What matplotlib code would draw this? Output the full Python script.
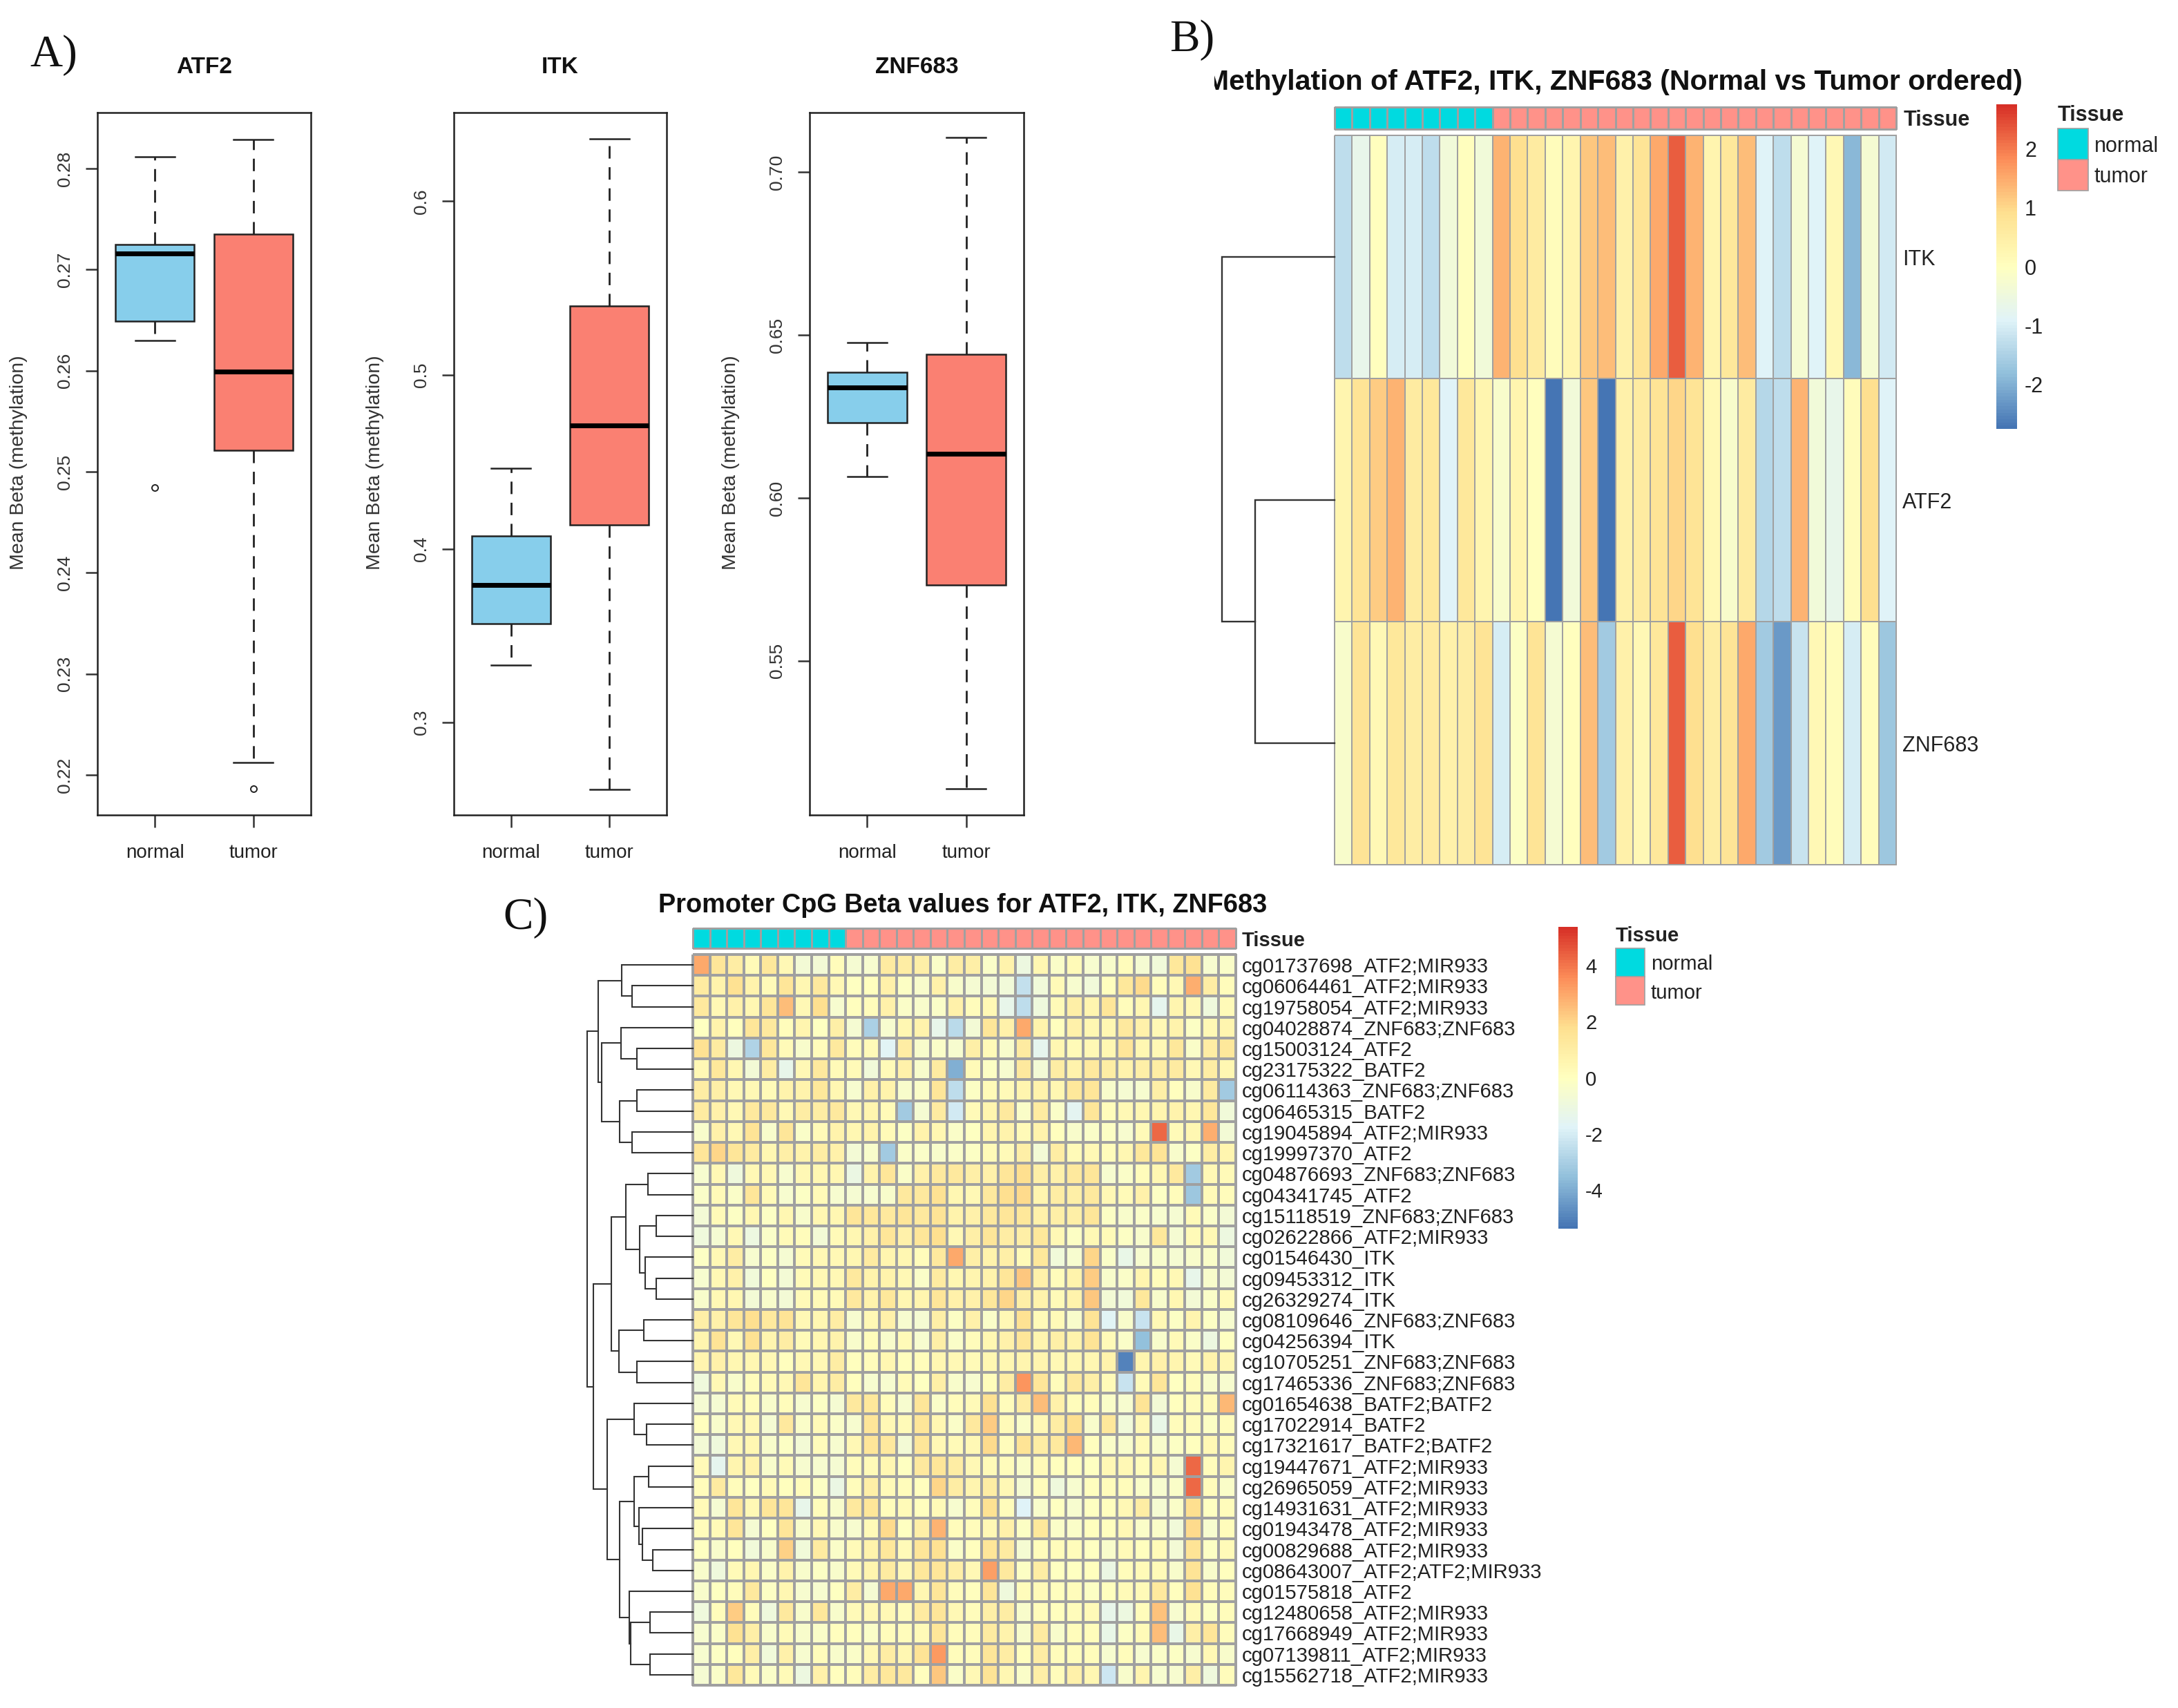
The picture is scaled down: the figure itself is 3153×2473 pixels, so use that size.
import numpy as np
import matplotlib
matplotlib.use('Agg')
import matplotlib.pyplot as plt
from matplotlib.colors import LinearSegmentedColormap, ListedColormap
from matplotlib.patches import Rectangle
from matplotlib.transforms import Bbox

plt.rcParams['font.family'] = ['Liberation Sans', 'DejaVu Sans']
plt.rcParams['axes.unicode_minus'] = False

W, H = 3153, 2473

# Boxplot stats: whislo, q1, med, q3, whishi, fliers
genes_a = ['ATF2', 'ITK', 'ZNF683']
groups = ['normal', 'tumor']
atf2_normal = [0.2630, 0.2649, 0.2716, 0.2725, 0.2812, [0.2484]]
atf2_tumor = [0.2212, 0.2521, 0.2599, 0.2735, 0.2829, [0.2186]]
itk_normal = [0.3329, 0.3570, 0.3791, 0.4073, 0.4462, []]
itk_tumor = [0.2617, 0.4136, 0.4709, 0.5396, 0.6358, []]
znf_normal = [0.6066, 0.6232, 0.6339, 0.6386, 0.6476, []]
znf_tumor = [0.5108, 0.5734, 0.6135, 0.6442, 0.7107, []]
box_stats = [[atf2_normal, atf2_tumor], [itk_normal, itk_tumor], [znf_normal, znf_tumor]]
box_ylims = [(0.21603, 0.28555), (0.2468, 0.651), (0.5027, 0.7183)]
box_ticks = [[0.22, 0.23, 0.24, 0.25, 0.26, 0.27, 0.28], [0.3, 0.4, 0.5, 0.6], [0.55, 0.60, 0.65, 0.70]]
box_ticklabels = [['0.22', '0.23', '0.24', '0.25', '0.26', '0.27', '0.28'],
                  ['0.3', '0.4', '0.5', '0.6'],
                  ['0.55', '0.60', '0.65', '0.70']]

# Panel B, z-scores per sample
tissue = ['normal'] * 9 + ['tumor'] * 23
b_rows = ['ITK', 'ATF2', 'ZNF683']
b_itk = [-1.3, -0.7, 0.0, -1.0, -1.0, -1.3, -0.4, 0.0, -0.4, 1.4, 0.9, 0.6, 0.1, 0.3, 1.2, 1.3,
         0.4, 0.8, 1.5, 2.3, 1.4, 0.3, 0.7, 1.3, -0.9, -1.3, -0.3, -0.9, 0.2, -1.9, -0.3, -1.1]
b_atf2 = [0.3, 0.8, 1.1, 1.4, 0.6, 0.7, -0.9, 0.7, 0.3, -0.2, 0.3, 0.0, -2.7, -0.4, 1.2, -2.7,
          0.4, 0.6, 0.8, 1.0, 0.8, 0.2, -0.2, 0.6, -1.4, -1.3, 1.4, -0.4, -0.7, 0.1, 0.9, -0.9]
b_znf = [-0.2, 0.8, 0.2, 0.7, 0.5, 0.6, 0.4, 0.5, 0.8, -1.0, -0.1, 0.8, -0.3, 0.0, 1.3, -1.6,
         0.4, 0.2, 0.7, 2.3, 0.9, 0.5, 0.8, 1.5, -1.6, -2.3, -1.2, 0.2, 0.1, -1.0, 0.1, -1.7]
b_tree = (1.73, 0, (1.22, 1, 2))

# Panel C, promoter CpG values
c_labels = ['cg01737698_ATF2;MIR933', 'cg06064461_ATF2;MIR933', 'cg19758054_ATF2;MIR933',
            'cg04028874_ZNF683;ZNF683', 'cg15003124_ATF2', 'cg23175322_BATF2',
            'cg06114363_ZNF683;ZNF683', 'cg06465315_BATF2', 'cg19045894_ATF2;MIR933',
            'cg19997370_ATF2', 'cg04876693_ZNF683;ZNF683', 'cg04341745_ATF2',
            'cg15118519_ZNF683;ZNF683', 'cg02622866_ATF2;MIR933', 'cg01546430_ITK',
            'cg09453312_ITK', 'cg26329274_ITK', 'cg08109646_ZNF683;ZNF683', 'cg04256394_ITK',
            'cg10705251_ZNF683;ZNF683', 'cg17465336_ZNF683;ZNF683', 'cg01654638_BATF2;BATF2',
            'cg17022914_BATF2', 'cg17321617_BATF2;BATF2', 'cg19447671_ATF2;MIR933',
            'cg26965059_ATF2;MIR933', 'cg14931631_ATF2;MIR933', 'cg01943478_ATF2;MIR933',
            'cg00829688_ATF2;MIR933', 'cg08643007_ATF2;ATF2;MIR933', 'cg01575818_ATF2',
            'cg12480658_ATF2;MIR933', 'cg17668949_ATF2;MIR933', 'cg07139811_ATF2;MIR933',
            'cg15562718_ATF2;MIR933']
c_values = [
    [3.0, 1.4, 1.0, .3, 1.3, .4, -.7, -.7, .2, -.6, -.5, 1.1, 1.0, .9, -.3, 1.0, .9, -.3, .7, -1.0, .5, -.3, .3, -.5, -.4, .2, -.6, -.8, 1.3, 1.7, -.5, -.3],
    [1.1, .7, 1.7, .7, .3, 1.4, .5, 1.2, .4, -.1, .1, .8, -.2, -.4, .8, -.4, -.6, -.7, -.8, -2.4, -.8, .3, -.5, -.8, 0, 1.3, 1.9, .2, .4, 2.8, 1.0, .2],
    [1.2, .4, .8, .5, 1.4, 2.5, .4, 1.8, -.5, .1, .2, .8, -.3, -.4, -.3, .8, .2, .4, -1.3, -2.5, -.9, .3, .9, .6, 1.5, .2, .5, -1.4, .6, .4, -.9, .3],
    [-.1, .7, 0, 1.5, 1.2, .2, .6, -.1, .9, -.6, -3.0, -.5, .5, .7, -1.3, -2.6, -.7, 1.5, .8, 3.0, .7, 0, .8, .5, .5, 1.2, .8, .4, .7, -.2, .4, .6],
    [1.7, 1.1, -1.0, -2.8, 1.3, .3, -.4, .2, 1.2, .2, .3, -1.7, 1.0, -.4, -.3, -.5, .9, .3, -.4, 1.1, -1.5, .5, .3, .4, .5, 1.4, .5, .4, 1.3, -.3, 1.0, 1.3],
    [.4, 1.3, .5, -.7, 1.0, -1.3, .4, 1.2, .3, .3, -.8, .3, .8, -.4, 1.1, -3.9, .3, -.2, -.5, 1.2, -.7, 1.0, .7, 1.2, 1.0, .7, .9, 1.0, 1.1, .4, 1.0, .5],
    [1.0, .9, .4, .4, .3, .7, .7, 1.3, .5, -.5, .8, .7, -.4, -.3, 1.5, -2.5, -.2, .3, .3, .6, .7, .5, 1.3, 1.5, -.4, -.6, -.5, .9, .1, -.4, 1.1, -3.2],
    [1.1, .8, .4, 1.2, 1.2, .4, 1.0, 1.0, 1.2, .4, .6, .3, -3.2, -.6, 1.1, -2.1, .3, .6, 1.2, -.3, 1.1, -.3, -1.6, 1.4, .2, .4, .5, .6, .7, .5, 1.3, -.8],
    [-.4, .8, .4, 1.6, -.4, 1.5, -.3, .3, .7, .5, .7, .3, -.2, .7, .5, -.3, -.1, .6, .7, .3, .7, .1, -.4, -.3, -.2, -.5, .3, 4.2, .3, .5, 2.8, -.7],
    [1.4, 2.0, 1.5, 1.1, .5, .9, .7, 1.0, .8, -.7, -.4, -3.2, -.3, -.3, -.4, -.3, -.2, .3, .3, .9, -.7, 1.0, .3, .4, .2, .5, 1.3, 1.6, -.4, -.2, 1.0, .6],
    [-.5, .4, -.9, .4, .4, -.5, .4, .5, .5, -1.1, .7, 1.4, -.3, .8, 1.2, 1.2, .9, .8, 1.5, 1.8, .9, .8, 1.2, 1.5, -.5, -.3, .2, .5, 1.2, -3.2, .4, .3],
    [-.3, .3, -.3, 1.5, .3, -.5, -.2, .3, -.5, -.6, -.5, -.4, 1.2, 1.2, 1.7, .5, .4, 1.2, 1.8, 1.9, .6, 1.0, .9, 1.2, .4, .3, .8, -.2, .2, -3.3, .3, .2],
    [-.7, .3, -.2, .5, -.2, .5, -.4, .5, .5, 1.4, 1.3, 1.2, 1.5, 1.2, 1.6, .7, .8, 1.2, 1.5, 1.3, .8, .9, .9, 1.5, -.2, -.4, -.3, -.5, -.6, .3, -.3, -.7],
    [-.9, -.6, .4, -1.0, -.3, .3, .2, -.7, .3, .5, .8, 1.5, .8, 1.5, 1.8, .4, .9, 1.5, 1.0, .9, 1.3, .4, -.2, .4, .3, -.2, -.4, 1.3, -.6, .3, .4, -1.0],
    [-.2, .4, 1.0, -.5, -.2, -.6, .3, .4, .4, .5, 1.1, .6, .5, .2, 1.2, 3.0, .9, .7, .9, .3, 1.3, -.8, -.5, 2.0, -.3, -1.2, -.5, -.4, -.6, -.4, -.3, -.8],
    [-.5, .4, .8, -.8, -.1, -.7, .3, .4, .4, 1.2, .7, .7, .4, -.3, 1.1, .5, .6, .7, 1.5, 2.3, .8, .2, .7, 2.2, -.4, -.3, .6, .2, .4, -1.3, -.4, -.7],
    [-.4, .4, .5, -.7, -.4, -.7, .3, .3, .3, 1.2, .7, 1.3, .5, .6, 1.5, .8, .8, 1.3, 2.0, .9, .7, .3, .7, 2.3, -.7, -.8, 1.3, -.4, .5, -.7, -.3, .3],
    [.9, .8, 1.4, 1.8, 1.2, 1.6, .4, .5, 1.0, -.5, .4, .8, -.5, -.6, .9, -.2, .8, -.3, .4, 1.7, .3, .3, -.4, 1.6, -1.7, -.4, -2.3, .4, -.2, .6, -.2, -.5],
    [.6, 1.6, .4, 1.7, .6, 1.0, .3, .5, .7, -.4, .2, -.4, .3, -.5, .9, -.3, .2, .5, .8, 1.4, .6, .9, .7, 1.6, .3, -.3, -3.5, -.4, .3, -.3, -1.0, -.1],
    [.6, .8, .5, .5, .4, .1, .4, .4, 1.0, .1, .2, .5, .1, .2, .5, .4, .3, .5, .5, .6, .6, .4, .5, .5, .7, -5.0, .6, .8, .6, .3, .7, .5],
    [-.9, .4, -.4, .2, .3, .4, 1.4, .6, 1.0, .1, -.5, -.5, .3, -.1, .9, -.4, -.5, .2, 1.0, 3.4, 1.5, .2, 1.2, .9, .3, -2.3, .3, 1.5, -.1, .2, -.4, -.5],
    [-.6, -.6, .3, .2, -.4, .2, -.5, -.2, -.6, 1.2, 1.3, .2, -.5, 1.5, -.3, .2, .3, 1.7, .2, 1.0, 2.5, .8, .2, .2, -.3, -.5, 1.6, -.7, .1, .2, .3, 2.6],
    [0, -.4, .4, .4, -.6, 1.2, -.3, .3, -.3, -.5, 1.5, .4, .3, 1.5, .5, -.3, 1.2, 2.2, .3, -.3, .4, 1.0, 1.8, -.4, 1.3, -.8, .4, -1.2, .2, .2, -.2, .2],
    [-.7, -.9, .4, .5, -.4, -.2, -.7, .2, -.5, .4, 1.4, 1.2, -.7, 1.4, .4, .3, .4, 1.9, .2, 1.6, 1.0, 1.2, 2.6, .1, -.3, -.4, .3, -.4, -.2, .1, .4, .2],
    [.3, -1.4, .6, .7, -.4, .3, -.5, -.5, -.6, .2, .3, .5, -.1, 1.2, 1.5, 1.0, .4, .3, .2, -.3, .3, .1, .1, -.1, .4, .4, .2, .5, -.6, 4.2, .2, .6],
    [.2, 1.1, .2, -.1, .3, .1, .2, -.2, -1.1, .2, .9, .3, .2, .1, 2.0, 1.0, .6, 1.0, .4, -.6, .2, -.9, -.5, .1, .2, .2, -.3, -.5, -.3, 4.2, .2, -.3],
    [.3, -.6, 1.4, .4, 1.5, 1.5, -1.3, .2, -.4, 1.2, 1.4, .2, .3, .1, .3, -.5, .2, 1.7, .2, -1.8, -.4, -.1, -.5, -.1, .1, .4, 1.0, -.6, -.3, 1.8, -.1, .2],
    [.2, .3, 1.4, -.6, -.1, 1.5, -.4, .4, -.4, -.5, .3, 1.9, -.1, .9, 2.7, .2, .2, .4, .8, -.2, 1.3, -.3, -.3, .1, .1, .4, -.3, -.3, -.8, 1.9, -.5, .2],
    [-.1, -.4, 0, -.8, -.4, 2.1, -.8, 1.1, -.3, .3, .7, 1.3, .3, 1.4, 1.7, -.3, .1, 1.5, 1.1, -.6, .2, .2, .2, -.1, -.4, .3, .1, .3, -.7, 1.6, -.2, .3],
    [-.4, -.9, .3, .5, -.3, .7, -.4, -.2, -.4, .3, .6, 1.1, .4, 1.3, 1.4, .9, .4, 3.2, 1.2, -.2, 1.0, -.1, -.1, .1, -1.1, .2, .3, .3, -.4, 1.6, -.4, .1],
    [-.4, -.1, .2, 1.2, -.2, .5, -.5, -.5, -.1, 1.0, -.6, 2.9, 3.0, .5, 1.4, .2, .1, 1.5, -.9, .2, .3, .1, .2, -.2, .1, .3, .3, 1.2, .1, 1.7, .2, .2],
    [-.9, .2, 2.2, .2, -.9, 1.2, -.4, 1.3, -.4, .3, .4, .4, .2, 1.1, 1.4, .4, .2, .9, 1.0, -.4, .2, .1, .2, .3, -1.3, -1.0, .2, 2.4, -.5, .3, -.2, .2],
    [-.5, -.3, 1.7, .9, -.4, .3, -.4, -.3, .1, .1, -.3, .2, .2, .3, 1.5, .2, .2, 1.1, .7, -.4, 1.1, -.4, .2, .2, -1.2, -.2, .3, 2.5, -1.2, .9, 1.5, .2],
    [-.5, -.2, .1, .9, -.8, .8, -.5, .2, -.4, -.3, .4, 1.0, .5, 1.6, 3.3, .2, .2, 1.5, 1.0, .1, 1.0, .2, .2, .2, -.5, .2, -.5, -.3, -.2, -.5, .4, -.4],
    [-.6, -.3, 1.3, .3, -.3, .3, -1.0, .8, .1, .2, 1.0, 1.3, 1.2, .1, 2.3, -.3, .4, 1.6, .5, -.3, .9, .2, .8, .5, -2.2, -.4, .6, -.5, -.5, .9, -.9, .2],
]
# Dendrogram merge heights, (height, left, right), leaves are row indices
c_top = (4.12, (3.10, 0, (2.65, 1, 2)),
         (3.98, (3.12, 3, (2.45, 4, 5)), (3.20, (2.43, 6, 7), (2.65, 8, 9))))
c_mid1 = (2.93, (1.95, 10, 11), (2.33, (1.58, 12, 13), (2.07, 14, (1.58, 15, 16))))
c_mid2 = (3.22, (2.12, 17, 18), (2.45, 19, 20))
c_low1 = (2.55, 21, (2.00, 22, 23))
c_low2 = (3.18, (2.55, (1.92, 24, 25), (2.35, 26, (2.18, 27, (1.75, 28, 29)))),
          (2.78, 30, (2.70, (1.87, 31, 32), (1.87, 33, 34))))
c_tree = (4.60, c_top, (4.32, (3.55, c_mid1, c_mid2), (3.72, c_low1, c_low2)))

heat_cmap = LinearSegmentedColormap.from_list(
    'rdylbu7', ['#4575B4', '#91BFDB', '#E0F3F8', '#FFFFBF', '#FEE090', '#FC8D59', '#D73027'], N=100)
tissue_colors = {'normal': '#00DAE0', 'tumor': '#FF9289'}
GRID = '#a0a0a0'

fig = plt.figure(figsize=(W / 100, H / 100), dpi=100)


def px_axes(x0, y0, x1, y1):
    return fig.add_axes([x0 / W, 1 - y1 / H, (x1 - x0) / W, (y1 - y0) / H])


def px_text(x, y, s, **kw):
    kw.setdefault('va', 'center')
    return fig.text(x / W, 1 - y / H, s, **kw)


def draw_tree(ax, node, lw):
    if isinstance(node, int):
        return 0.0, node + 0.5
    h, left, right = node
    hl, yl = draw_tree(ax, left, lw)
    hr, yr = draw_tree(ax, right, lw)
    ax.plot([hl, h, h, hr], [yl, yl, yr, yr], color='#333333', lw=lw, solid_joinstyle='miter')
    return h, (yl + yr) / 2


def heatmap(box, ann_box, dendro_x, tree, values, labels, vmax, cbar_box, cbar_ticks,
            legend_x, legend_ys, fs, tree_lw, cell_lw):
    x0, y0, x1, y1 = box
    ax = px_axes(x0, y0, x1, y1)
    mesh = ax.pcolormesh(np.array(values), cmap=heat_cmap, vmin=-vmax, vmax=vmax,
                         edgecolors=GRID, linewidth=cell_lw, clip_on=False)
    ax.set_xlim(0, len(tissue))
    ax.set_ylim(len(labels), 0)
    ax.set_xticks([])
    ax.yaxis.tick_right()
    ax.set_yticks(np.arange(len(labels)) + 0.5)
    ax.set_yticklabels(labels, fontsize=fs, color='#222222')
    ax.tick_params(axis='y', length=0, pad=6.5)
    for s in ax.spines.values():
        s.set_visible(False)

    # tissue annotation strip
    ann = px_axes(*ann_box)
    codes = np.array([[groups.index(t) for t in tissue]])
    ann.pcolormesh(codes, cmap=ListedColormap([tissue_colors[g] for g in groups]),
                   edgecolors=GRID, linewidth=0.9, clip_on=False)
    ann.set_axis_off()

    # dendrogram
    dn = px_axes(dendro_x, y0, x0, y1)
    draw_tree(dn, tree, tree_lw)
    dn.set_xlim(tree[0], 0)
    dn.set_ylim(len(labels), 0)
    dn.set_axis_off()
    for line in dn.lines:
        line.set_clip_on(False)

    # colour bar
    cax = px_axes(*cbar_box)
    cb = fig.colorbar(mesh, cax=cax)
    cb.outline.set_visible(False)
    cb.set_ticks(cbar_ticks)
    cb.set_ticklabels([str(t) for t in cbar_ticks])
    cb.ax.tick_params(length=0, labelsize=fs, pad=8, labelcolor='#222222')

    # tissue legend
    lx0, lx1, ltitle, l0, l1, l2 = legend_x + legend_ys
    px_text(lx0, ltitle + 2, 'Tissue', fontsize=fs, fontweight='bold', color='#222222')
    for g, ya, yb in zip(groups, [l0, l1], [l1, l2]):
        fig.add_artist(Rectangle((lx0 / W, 1 - yb / H), (lx1 - lx0) / W, (yb - ya) / H,
                                 transform=fig.transFigure, facecolor=tissue_colors[g],
                                 edgecolor=GRID, linewidth=1.2))
        px_text(lx1 + 9, (ya + yb) / 2 + 3, g, fontsize=fs, color='#222222')


# Panel A boxplots
box_x = [(141, 450), (657, 965), (1172, 1482)]
for i, gene in enumerate(genes_a):
    ax = px_axes(box_x[i][0], 163, box_x[i][1], 1180)
    stats = []
    for g, s in zip(groups, box_stats[i]):
        stats.append({'label': g, 'whislo': s[0], 'q1': s[1], 'med': s[2], 'q3': s[3],
                      'whishi': s[4], 'fliers': s[5]})
    parts = ax.bxp(stats, positions=[1, 2], widths=0.8, capwidths=0.4, patch_artist=True,
                   boxprops=dict(linewidth=1.8, edgecolor='#222222'),
                   medianprops=dict(color='black', linewidth=5, solid_capstyle='butt'),
                   whiskerprops=dict(color='#222222', linewidth=2, linestyle=(0, (6.5, 4.5))),
                   capprops=dict(color='#222222', linewidth=1.8),
                   flierprops=dict(marker='o', markersize=6.5, markerfacecolor='none',
                                   markeredgecolor='#222222', markeredgewidth=1.4))
    for patch, c in zip(parts['boxes'], ['skyblue', 'salmon']):
        patch.set_facecolor(c)
    ax.set_xlim(0.417, 2.583)
    ax.set_ylim(*box_ylims[i])
    ax.set_xticks([1, 2])
    ax.set_xticklabels(groups, fontsize=20, color='#222222')
    ax.set_yticks(box_ticks[i])
    ax.set_yticklabels(box_ticklabels[i], rotation=90, va='center', fontsize=19, color='#333333')
    ax.tick_params(axis='x', length=13, width=1.8, pad=17, color='#333333')
    ax.tick_params(axis='y', length=12.5, width=1.8, pad=13, color='#333333')
    for s in ax.spines.values():
        s.set_linewidth(1.8)
        s.set_color('#222222')
    px_text(box_x[i][0] - 114, 670, 'Mean Beta (methylation)', rotation=90, ha='center',
            fontsize=20.5, color='#333333')
    px_text(sum(box_x[i]) / 2, 97, gene, ha='center',
            fontsize=24, fontweight='bold', color='#111111')

# Panel B
heatmap((1932, 196, 2745, 1252), (1932, 155, 2745, 187), 1769, b_tree,
        [b_itk, b_atf2, b_znf], b_rows, 2.75, (2890, 151, 2920, 621), [-2, -1, 0, 1, 2],
        (2979, 3023), (165, 186, 231, 276), 22, 1.7, 1.4)
px_text(2756, 174, 'Tissue', fontsize=22, fontweight='bold', color='#222222')
title_b = px_text(2928, 119, 'Methylation of ATF2, ITK, ZNF683 (Normal vs Tumor ordered)', ha='right',
                  fontsize=29.5, fontweight='bold', color='#111111')
title_b.set_clip_on(True)
title_b.set_clip_box(Bbox([[1758, 0], [W, H]]))

# Panel C
heatmap((1003, 1382, 1789, 2440), (1003, 1344, 1789, 1373), 850, c_tree,
        c_values, c_labels, 5.37, (2256, 1342, 2284, 1779), [-4, -2, 0, 2, 4],
        (2339, 2381), (1353, 1373, 1414, 1455), 21.1, 1.5, 1.5)
px_text(1798, 1362, 'Tissue', fontsize=21, fontweight='bold', color='#222222')
px_text(953, 1311, 'Promoter CpG Beta values for ATF2, ITK, ZNF683', fontsize=27.3,
        fontweight='bold', color='#111111')

# Panel letters
for letter, x, y in [('A)', 43, 96), ('B)', 1693, 74), ('C)', 728, 1345)]:
    px_text(x, y, letter, va='baseline', fontsize=47, family=['Liberation Serif', 'DejaVu Serif'],
            color='#111111')

fig.savefig('out.png', dpi=100)
